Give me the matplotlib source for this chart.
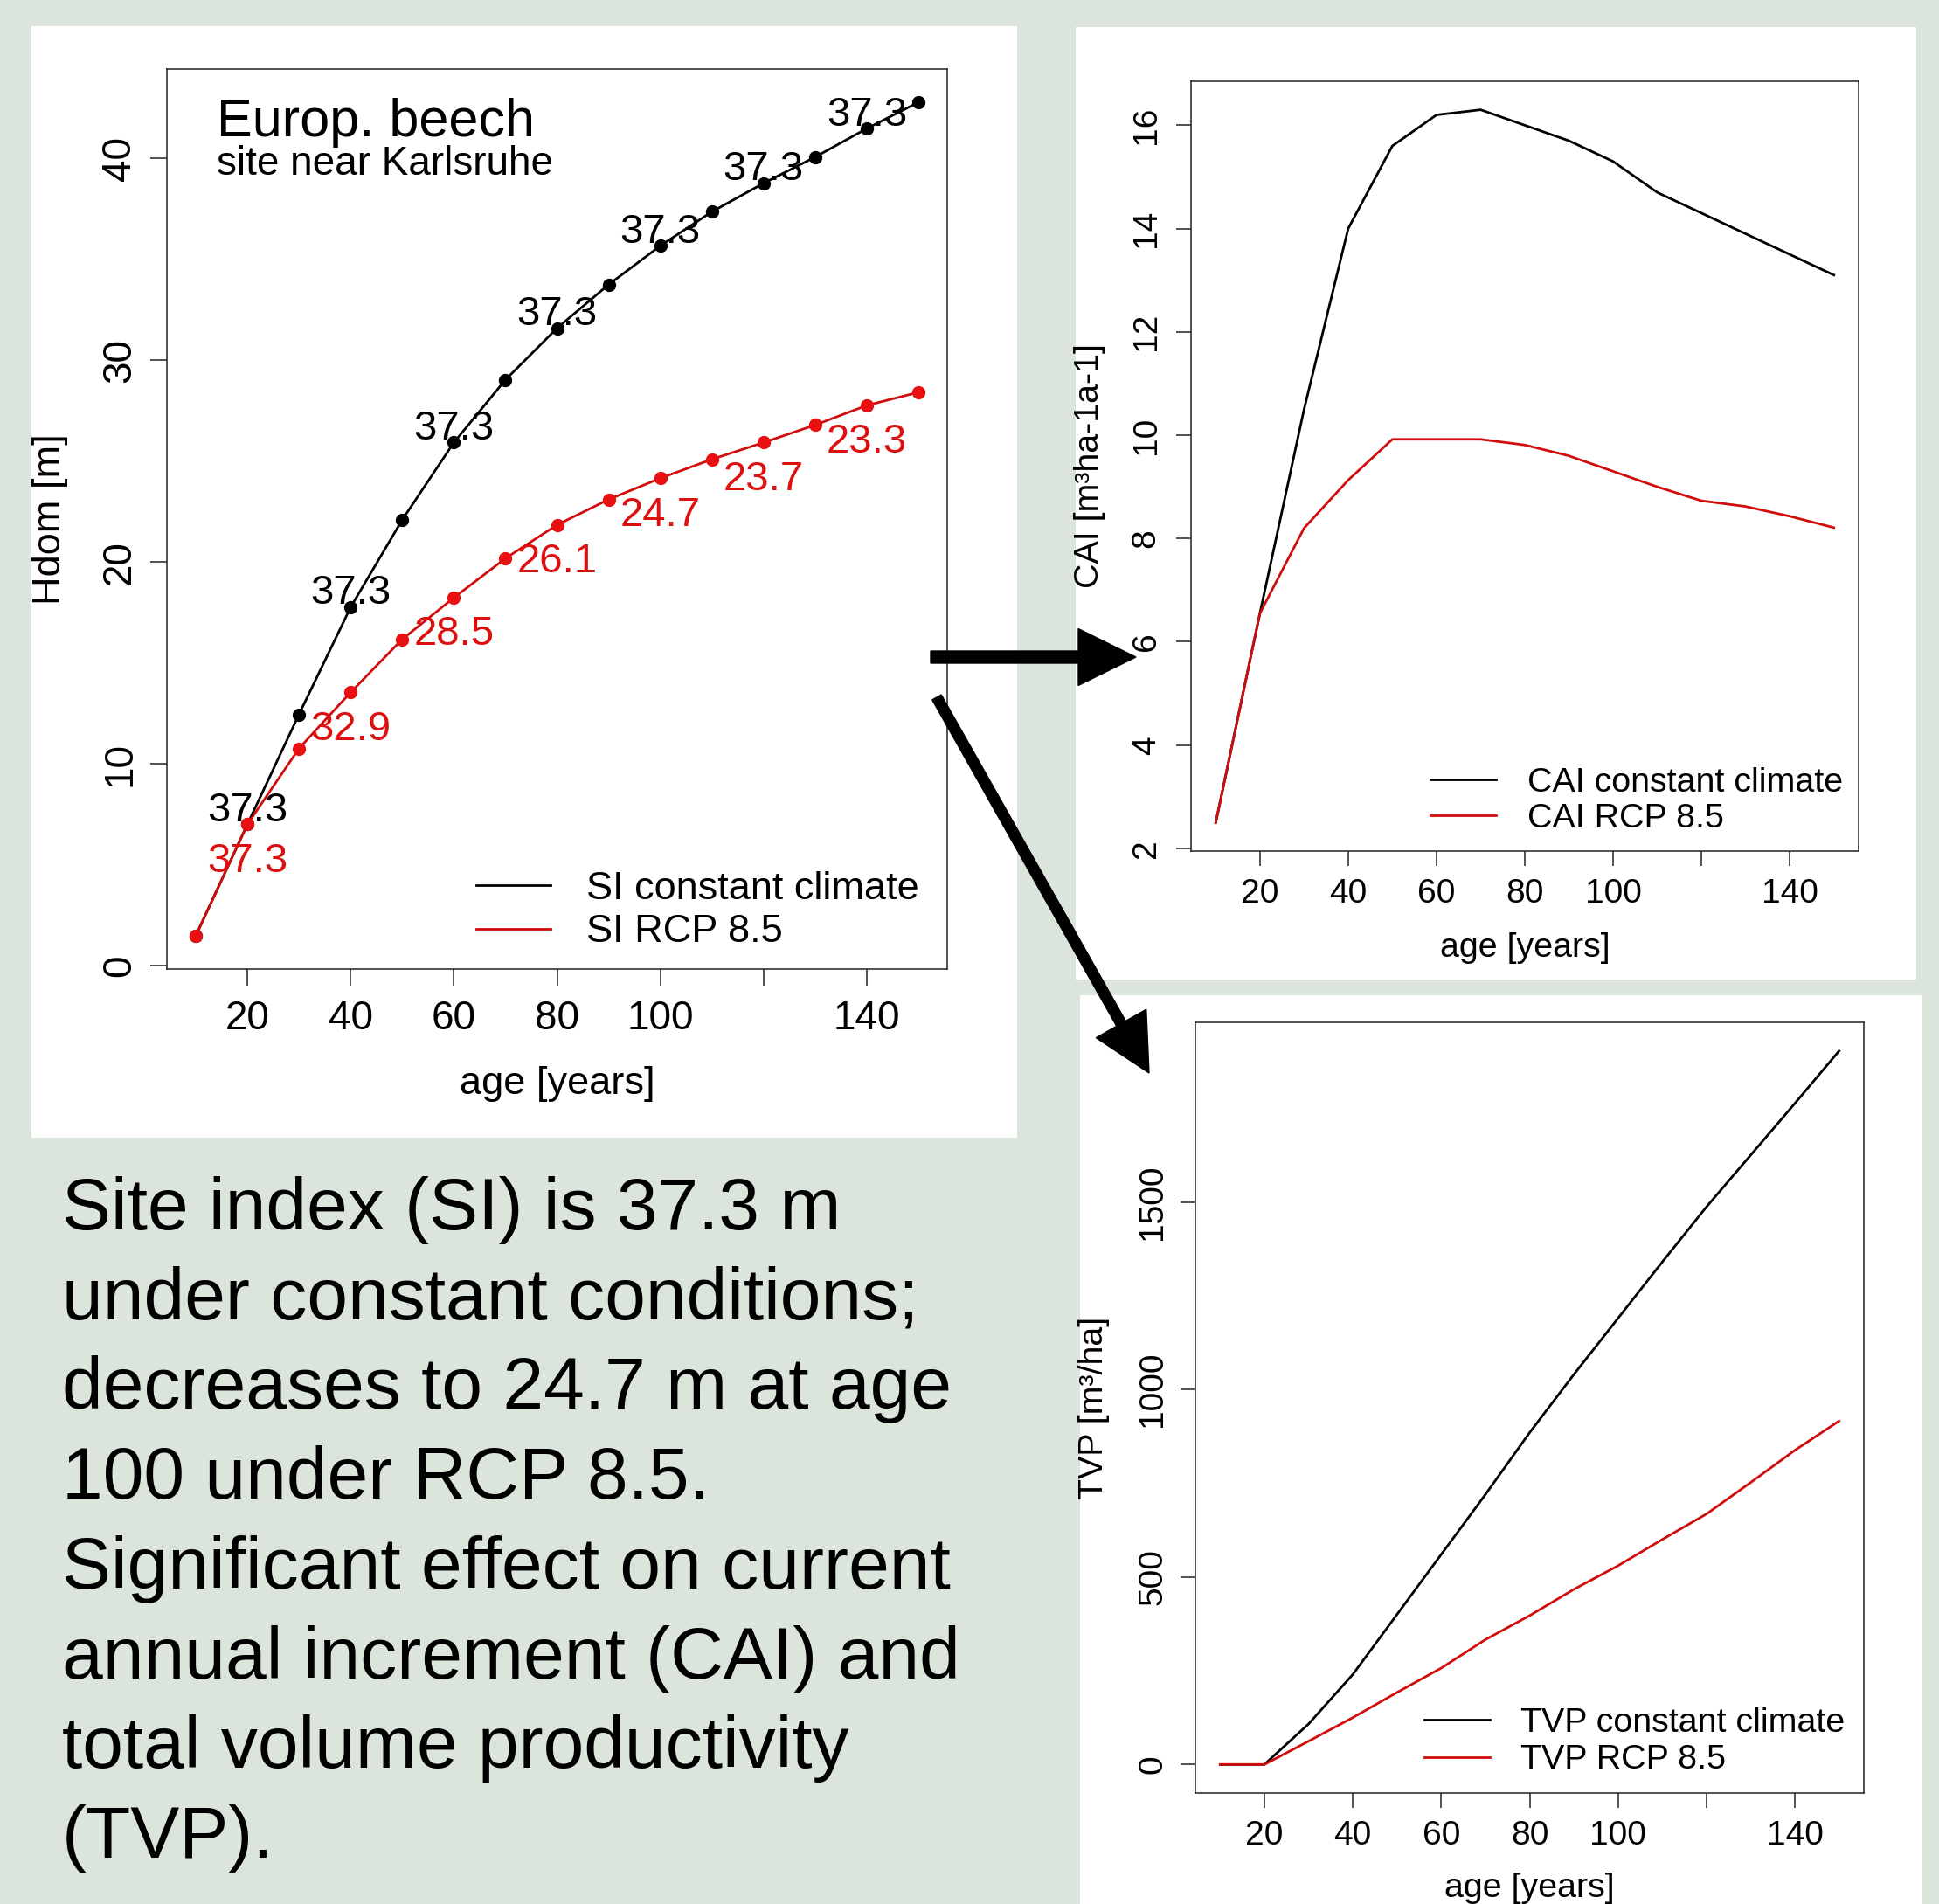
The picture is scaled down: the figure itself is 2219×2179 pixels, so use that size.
import matplotlib
matplotlib.use("Agg")
import matplotlib.pyplot as plt
from matplotlib.patches import Rectangle, FancyArrow

plt.rcParams["font.family"] = ["Liberation Sans", "DejaVu Sans"]

# Daten
age = [10, 20, 30, 40, 50, 60, 70, 80, 90, 100, 110, 120, 130, 140, 150]

si_const = [1.48, 7.0, 12.45, 17.76, 22.09, 25.92, 29.03, 31.59, 33.75, 35.67,
            37.36, 38.77, 40.07, 41.48, 42.78]
si_rcp = [1.48, 7.0, 10.76, 13.54, 16.17, 18.23, 20.18, 21.84, 23.1, 24.15,
          25.09, 25.92, 26.79, 27.76, 28.41]

label_ages = [20, 40, 60, 80, 100, 120, 140]
si_const_labels = ["37.3", "37.3", "37.3", "37.3", "37.3", "37.3", "37.3"]
si_rcp_labels = ["37.3", "32.9", "28.5", "26.1", "24.7", "23.7", "23.3"]

cai_const = [2.5, 6.55, 10.5, 14.0, 15.6, 16.2, 16.3, 16.0, 15.7, 15.3,
             14.7, 14.3, 13.9, 13.5, 13.1]
cai_rcp = [2.5, 6.55, 8.2, 9.13, 9.92, 9.92, 9.92, 9.81, 9.6, 9.3,
           9.0, 8.73, 8.62, 8.43, 8.21]

tvp_const = [0, 0, 108, 240, 400, 560, 720, 885, 1040, 1190,
             1340, 1487, 1625, 1763, 1903]
tvp_rcp = [0, 0, 62, 125, 192, 257, 333, 397, 467, 530,
           600, 668, 752, 838, 916]

x_ticks = [20, 40, 60, 80, 100, 120, 140]
x_tick_labels = ["20", "40", "60", "80", "100", "", "140"]

text_lines = [
    "Site index (SI) is 37.3 m",
    "under constant conditions;",
    "decreases to 24.7 m at age",
    "100 under RCP 8.5.",
    "Significant effect on current",
    "annual increment (CAI) and",
    "total volume productivity",
    "(TVP).",
]

W, H = 2219, 2179
BG = "#dce5dc"
RED = "#d00c0c"

fig = plt.figure(figsize=(W / 100, H / 100), dpi=100)
fig.patch.set_facecolor(BG)


def px_axes(left, top, right, bottom, **kw):
    return fig.add_axes([left / W, 1 - bottom / H, (right - left) / W, (bottom - top) / H], **kw)


def r_lim(values):
    lo, hi = min(values), max(values)
    pad = 0.04 * (hi - lo)
    return lo - pad, hi + pad


def style(ax, fs, tick_len, xpad, ypad):
    for s in ax.spines.values():
        s.set_linewidth(1.1)
        s.set_color("#222222")
    ax.set_xticks(x_ticks)
    ax.set_xticklabels(x_tick_labels)
    ax.tick_params(direction="out", length=tick_len, width=1.1, labelsize=fs, color="#222222")
    ax.tick_params(axis="x", pad=xpad)
    ax.tick_params(axis="y", pad=ypad)
    for lab in ax.get_yticklabels():
        lab.set_rotation(90)
        lab.set_va("center")


# Hintergrund mit weissen Feldern
bg = px_axes(0, 0, W, H, zorder=-5)
bg.set_xlim(0, W)
bg.set_ylim(H, 0)
bg.axis("off")
bg.patch.set_alpha(0)
for x0, y0, x1, y1 in [(36, 30, 1164, 1302), (1231, 31, 2193, 1121), (1236, 1139, 2200, 2179)]:
    bg.add_patch(Rectangle((x0, y0), x1 - x0, y1 - y0, facecolor="white", edgecolor="none"))

# --- Oberhoehe / Site index ---
ax1 = px_axes(191, 79, 1084, 1109)
ax1.plot(age, si_const, color="black", lw=2.0, label="SI constant climate")
ax1.plot(age, si_const, color="black", ls="none", marker="o", ms=10)
ax1.plot(age, si_rcp, color=RED, lw=2.0, label="SI RCP 8.5")
ax1.plot(age, si_rcp, color="#e81010", ls="none", marker="o", ms=10)
ax1.set_xlim(r_lim(age))
ax1.set_ylim(r_lim(si_const + si_rcp))
style(ax1, 33, 14, 11, 9)
ax1.set_yticks([0, 10, 20, 30, 40])

for a, lab in zip(label_ages, si_const_labels):
    ax1.annotate(lab, (a, si_const[age.index(a)]), xytext=(0, 2.5), textcoords="offset points",
                 ha="center", va="baseline", fontsize=34, color="black")
for a, lab in zip(label_ages, si_rcp_labels):
    ax1.annotate(lab, (a, si_rcp[age.index(a)]), xytext=(0, -39), textcoords="offset points",
                 ha="center", va="baseline", fontsize=34, color="#dd1010")

ax1.text(0.064, 0.925, "Europ. beech", transform=ax1.transAxes, fontsize=44, va="baseline")
ax1.text(0.064, 0.883, "site near Karlsruhe", transform=ax1.transAxes, fontsize=33, va="baseline")

ax1.set_xlabel("age [years]", fontsize=32.5)
ax1.xaxis.set_label_coords(0.5, -0.139)
ax1.xaxis.label.set_va("baseline")
ax1.set_ylabel("Hdom [m]", fontsize=32.5)
ax1.yaxis.set_label_coords(-0.137, 0.5)
ax1.yaxis.label.set_va("baseline")
ax1.legend(loc="upper left", bbox_to_anchor=(0.396, 0.109), frameon=False, fontsize=32.5,
           handlelength=1.9, handletextpad=0.9, labelspacing=0.19, borderpad=0, borderaxespad=0)

# --- CAI ---
ax2 = px_axes(1363, 93, 2127, 974)
ax2.plot(age, cai_const, color="black", lw=2.0, label="CAI constant climate")
ax2.plot(age, cai_rcp, color=RED, lw=2.0, label="CAI RCP 8.5")
ax2.set_xlim(r_lim(age))
ax2.set_ylim(r_lim(cai_const + cai_rcp))
style(ax2, 28, 12, 10, 12)
ax2.set_yticks([2, 4, 6, 8, 10, 12, 14, 16])
ax2.set_xlabel("age [years]", fontsize=28.4)
ax2.xaxis.set_label_coords(0.5, -0.137)
ax2.xaxis.label.set_va("baseline")
ax2.set_ylabel("CAI [m³ha-1a-1]", fontsize=28.4)
ax2.yaxis.set_label_coords(-0.139, 0.5)
ax2.yaxis.label.set_va("baseline")
ax2.legend(loc="upper left", bbox_to_anchor=(0.359, 0.109), frameon=False, fontsize=28.4,
           handlelength=1.9, handletextpad=0.9, labelspacing=0.13, borderpad=0, borderaxespad=0)

# --- TVP ---
ax3 = px_axes(1368, 1170, 2133, 2052)
ax3.plot(age, tvp_const, color="black", lw=2.0, label="TVP constant climate")
ax3.plot(age, tvp_rcp, color=RED, lw=2.0, label="TVP RCP 8.5")
ax3.set_xlim(r_lim(age))
ax3.set_ylim(r_lim(tvp_const + tvp_rcp))
style(ax3, 28, 12, 10, 10)
ax3.set_yticks([0, 500, 1000, 1500])
ax3.set_xlabel("age [years]", fontsize=28.4)
ax3.xaxis.set_label_coords(0.5, -0.135)
ax3.xaxis.label.set_va("baseline")
ax3.set_ylabel("TVP [m³/ha]", fontsize=28.4)
ax3.yaxis.set_label_coords(-0.139, 0.5)
ax3.yaxis.label.set_va("baseline")
ax3.legend(loc="upper left", bbox_to_anchor=(0.342, 0.111), frameon=False, fontsize=28.4,
           handlelength=1.9, handletextpad=0.9, labelspacing=0.16, borderpad=0, borderaxespad=0)

# Pfeile und Text obendrauf
top = px_axes(0, 0, W, H, zorder=10)
top.set_xlim(0, W)
top.set_ylim(H, 0)
top.axis("off")
top.patch.set_alpha(0)
top.add_patch(FancyArrow(1065, 752, 235, 0, width=14, head_width=65, head_length=66,
                         length_includes_head=True, color="black"))
top.add_patch(FancyArrow(1072, 798, 243, 430, width=12, head_width=66, head_length=65,
                         length_includes_head=True, color="black"))

for i, line in enumerate(text_lines):
    top.text(71, 1407 + i * 102.7, line, fontsize=60.5, va="baseline", ha="left", color="black")

fig.savefig("out.png", dpi=100, facecolor=BG)
